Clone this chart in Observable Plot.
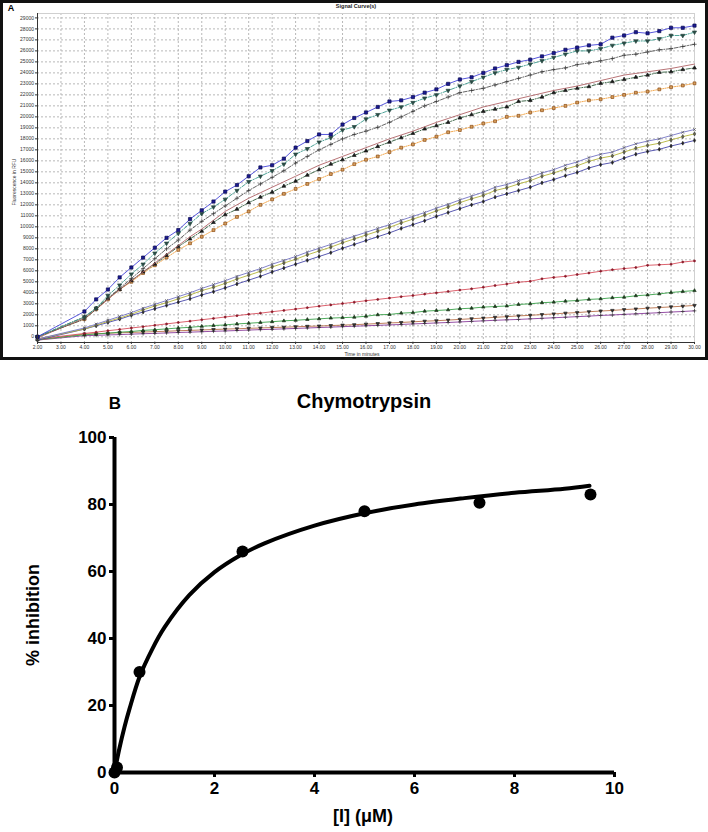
<!DOCTYPE html>
<html><head><meta charset="utf-8">
<script src="https://cdn.jsdelivr.net/npm/d3@7"></script>
<script src="https://cdn.jsdelivr.net/npm/@observablehq/plot@0.6"></script>
<style>
body{margin:0;background:#fff;}
#wrap{position:relative;width:708px;height:832px;overflow:hidden;font-family:"Liberation Sans",Arial,sans-serif;}
.abs{position:absolute;white-space:nowrap;line-height:1;transform:translate(-50%,-50%);}
.panel{position:absolute;left:0;top:0;}
</style></head><body><div id="wrap"></div>
<script>
// ---------- Panel A data (Fluorescence in RFU vs time in minutes) ----------
const timeMin = [2,4,4.5,5,5.5,6,6.5,7,7.5,8,8.5,9,9.5,10,10.5,11,11.5,12,12.5,13,13.5,14,14.5,15,15.5,16,16.5,17,17.5,18,18.5,19,19.5,20,20.5,21,21.5,22,22.5,23,23.5,24,24.5,25,25.5,26,26.5,27,27.5,28,28.5,29,29.5,30];
const blueSquares = [0,2300,3400,4300,5400,6300,7200,8100,9000,9700,10700,11500,12300,13200,13800,14600,15400,15600,16200,17200,17800,18400,18400,19300,19900,20400,20900,21400,21500,21800,22200,22500,23000,23400,23600,24000,24400,24700,25000,25200,25500,25800,26100,26300,26500,26600,27200,27400,27700,27600,27800,28100,28100,28300];
const tealTriangles = [0,1800,2600,3750,4700,5700,6600,7600,8500,9400,10300,11200,11800,12500,13300,14100,14600,15100,15700,16600,17100,17700,18100,18800,19100,19800,20200,20600,20900,21300,21700,22000,22400,22800,23200,23600,24000,24300,24500,24800,25100,25400,25700,26000,26000,26200,26500,26700,26900,26900,27100,27400,27400,27700];
const greyPlus = [0,1600,2500,3500,4400,5300,6200,7100,8000,8800,9700,10500,11200,11900,12600,13300,13900,14500,15100,15800,16400,17000,17500,18000,18400,18700,19050,19500,20000,20500,21000,21400,21800,22200,22400,22600,22900,23200,23500,23800,24100,24300,24450,24750,24900,25100,25300,25600,25700,25900,26100,26200,26400,26600];
const brownSolid = [-100,1700,2500,3400,4300,5100,5900,6700,7500,8300,9100,9800,10600,11400,12000,12600,13100,13600,14100,14600,15100,15600,16000,16400,16800,17200,17600,18000,18350,18700,19100,19500,19850,20200,20550,20900,21150,21400,21650,21900,22150,22400,22600,22800,23050,23300,23550,23800,23950,24100,24250,24400,24600,24800];
const blackTriangles = [0,1800,2600,3500,4300,5100,5900,6600,7400,8200,8900,9600,10400,11100,11600,12200,12700,13150,13700,14150,14700,15200,15700,16100,16500,16900,17300,17700,18100,18500,18900,19200,19500,19900,20200,20500,20700,20900,21400,21500,21800,22200,22400,22600,22750,23050,23200,23400,23600,23800,24050,24100,24300,24450];
const orangeSquares = [0,1600,2500,3400,4300,5000,5800,6500,7200,7900,8500,9100,9700,10300,10900,11400,12000,12500,13000,13450,13900,14350,14800,15200,15700,16100,16400,16800,17200,17500,17900,18200,18600,18800,19100,19400,19600,20000,20100,20400,20600,20800,21000,21300,21500,21600,21800,22000,22200,22300,22500,22700,22850,23050];
const purpleCross = [-200,800,1150,1500,1850,2200,2600,2950,3300,3650,4000,4400,4750,5100,5500,5850,6200,6600,6950,7300,7700,8050,8400,8800,9150,9500,9850,10200,10600,10950,11300,11700,12050,12450,12800,13150,13600,13850,14200,14500,14900,15200,15600,15900,16300,16600,16800,17200,17550,17800,18000,18300,18600,18850];
const oliveDiamonds = [-200,700,1050,1400,1700,2050,2450,2800,3100,3450,3800,4200,4500,4850,5250,5600,5950,6350,6700,7050,7450,7800,8150,8550,8900,9250,9600,9950,10350,10700,11050,11450,11800,12200,12550,12850,13300,13550,13900,14200,14600,14900,15250,15550,15950,16250,16450,16800,17150,17400,17600,17900,18200,18450];
const blueDots = [-300,700,1000,1300,1600,1950,2250,2550,2850,3150,3450,3800,4100,4450,4800,5150,5500,5900,6250,6600,6950,7300,7650,8050,8400,8750,9100,9450,9850,10200,10550,10950,11300,11650,12000,12300,12700,13000,13300,13600,14000,14300,14650,14950,15350,15650,15850,16250,16600,16850,17050,17350,17600,17850];
const redDots = [-200,300,420,550,670,800,920,1050,1170,1300,1420,1550,1670,1800,1920,2050,2150,2280,2400,2520,2650,2780,2900,3020,3150,3280,3400,3520,3650,3750,3880,4000,4120,4250,4360,4500,4660,4800,4960,5050,5270,5400,5500,5660,5800,5960,6100,6200,6300,6500,6550,6600,6800,6900];
const greenTriangles = [-250,180,250,330,420,480,580,640,720,800,860,950,1020,1080,1170,1230,1300,1370,1450,1500,1570,1630,1700,1740,1780,1870,2000,2030,2150,2200,2330,2390,2450,2550,2600,2700,2750,2800,2940,3000,3100,3150,3240,3300,3400,3450,3550,3600,3730,3800,3900,4030,4120,4200];
const brownT = [-300,250,280,320,360,400,430,470,500,550,580,620,660,700,730,770,800,840,870,910,950,980,1020,1060,1100,1150,1200,1260,1300,1360,1420,1460,1520,1580,1640,1700,1770,1830,1900,1950,2020,2080,2150,2200,2280,2340,2400,2470,2530,2600,2660,2720,2780,2850];
const purplePlus = [-300,100,130,170,200,240,280,310,350,390,420,460,500,530,570,610,650,680,720,760,800,840,880,920,960,1000,1040,1080,1120,1170,1210,1260,1300,1350,1400,1450,1500,1540,1580,1630,1680,1730,1780,1830,1880,1940,1980,2040,2090,2140,2190,2250,2300,2360];
const xTicksA = [2,3,4,5,6,7,8,9,10,11,12,13,14,15,16,17,18,19,20,21,22,23,24,25,26,27,28,29,30];
const yTicksA = [0,1000,2000,3000,4000,5000,6000,7000,8000,9000,10000,11000,12000,13000,14000,15000,16000,17000,18000,19000,20000,21000,22000,23000,24000,25000,26000,27000,28000,29000];

// ---------- Panel B data ----------
const concUM = [0, 0.05, 0.5, 2.56, 5.0, 7.3, 9.52];
const inhibitionPct = [0, 1.5, 30, 66, 78, 80.5, 83];
const fitConc = [0, 0.1, 0.2, 0.3, 0.5, 0.75, 1, 1.5, 2, 2.5, 3, 4, 5, 6, 7, 8, 9, 9.5];
const fitInhibition = [0, 7.3, 13.6, 19, 28.5, 36.7, 43.3, 53, 59.8, 64.7, 68.4, 73.7, 77.4, 80, 81.9, 83.5, 84.7, 85.6];
const xTicksB = [0, 2, 4, 6, 8, 10];
const yTicksB = [0, 20, 40, 60, 80, 100];

// inverted triangle symbol
const invTriangle = {draw(ctx, size) {
  const y = -Math.sqrt(size / (Math.sqrt(3) * 3));
  ctx.moveTo(0, -y * 2);
  ctx.lineTo(-Math.sqrt(3) * y, y);
  ctx.lineTo(Math.sqrt(3) * y, y);
  ctx.closePath();
}};

// styles (drawn bottom to top)
const seriesA = [
  {v: purplePlus, stroke: "#8a3c9c", dash: null, symbol: "plus", r: 1.3, fill: "none", mstroke: "#333"},
  {v: brownT, stroke: "#b8704a", dash: null, symbol: invTriangle, r: 1.3, fill: "#333", mstroke: "#222"},
  {v: greenTriangles, stroke: "#3aa24a", dash: null, symbol: "triangle", r: 1.25, fill: "#1e3a1e", mstroke: "#1e3a1e"},
  {v: redDots, stroke: "#d8505e", dash: null, symbol: "circle", r: 1.0, fill: "#8a1a2a", mstroke: "#8a1a2a"},
  {v: blueDots, stroke: "#4646a8", dash: null, symbol: "diamond", r: 1.15, fill: "#222", mstroke: "#222"},
  {v: oliveDiamonds, stroke: "#b4b43a", dash: null, symbol: "diamond", r: 1.25, fill: "#6a6a4a", mstroke: "#444"},
  {v: purpleCross, stroke: "#7474c4", dash: null, symbol: "times", r: 1.4, fill: "none", mstroke: "#555"},
  {v: orangeSquares, stroke: "#f0a040", dash: "1.2,1.2", symbol: "square", r: 1.6, fill: "#d8a060", mstroke: "#8a4a12"},
  {v: blackTriangles, stroke: "#2e5a3a", dash: "4,1.5,1,1.5", symbol: "triangle", r: 1.4, fill: "#1a1a1a", mstroke: "#1a1a1a"},
  {v: brownSolid, stroke: "#b06468", dash: null, symbol: null},
  {v: greyPlus, stroke: "#555", dash: "4,1.5,1,1.5", symbol: "plus", r: 1.5, fill: "none", mstroke: "#333"},
  {v: tealTriangles, stroke: "#3a9a8c", dash: "4,1.5,1,1.5", symbol: invTriangle, r: 1.55, fill: "#2a4a44", mstroke: "#2a4a44"},
  {v: blueSquares, stroke: "#4444d8", dash: null, symbol: "square", r: 1.8, fill: "#1a1a90", mstroke: "#0a0a50"}
];

const marksA = [
  Plot.gridX(xTicksA, {stroke: "#b8b8b8", strokeOpacity: 1, strokeDasharray: "2,2"}),
  Plot.gridY(yTicksA, {stroke: "#b8b8b8", strokeOpacity: 1, strokeDasharray: "2,2"}),
  Plot.frame({stroke: "#d0d0d0"})
];
for (const s of seriesA) {
  const rows = timeMin.map((t, i) => ({t, v: s.v[i]}));
  marksA.push(Plot.lineY(rows, {x: "t", y: "v", stroke: s.stroke, strokeWidth: 0.9, strokeDasharray: s.dash}));
  if (s.symbol) marksA.push(Plot.dot(rows, {x: "t", y: "v", symbol: s.symbol, r: s.r, fill: s.fill, stroke: s.mstroke, strokeWidth: 0.7}));
}
marksA.push(
  Plot.ruleX([2], {stroke: "#333", strokeWidth: 1}),
  Plot.ruleY([-520], {stroke: "#333", strokeWidth: 1}),
  Plot.axisY({ticks: yTicksA, tickSize: 2, tickPadding: 1.5, fontSize: 5, color: "#333", label: null, tickFormat: d => String(d)}),
  Plot.axisX({ticks: xTicksA, tickSize: 2, tickPadding: 1, fontSize: 5, color: "#333", label: null, tickFormat: d => d.toFixed(2)})
);

const plotA = Plot.plot({
  width: 708, height: 360,
  marginLeft: 37, marginRight: 14, marginTop: 13, marginBottom: 18,
  x: {domain: [2, 30]},
  y: {domain: [-520, 29400]},
  style: {fontFamily: "Liberation Sans, Arial, sans-serif", background: "transparent"},
  marks: marksA
});

// ---------- Panel B ----------
const pointsB = concUM.map((c, i) => ({c, p: inhibitionPct[i]}));
const fitB = fitConc.map((c, i) => ({c, p: fitInhibition[i]}));
const plotB = Plot.plot({
  width: 708, height: 452,
  marginLeft: 114, marginRight: 94, marginTop: 57, marginBottom: 60,
  x: {domain: [0, 10]},
  y: {domain: [0, 100]},
  style: {fontFamily: "Liberation Sans, Arial, sans-serif", fontWeight: "bold", background: "transparent", color: "#000"},
  marks: [
    Plot.axisX({ticks: xTicksB, tickSize: 5, tickPadding: 4, strokeWidth: 3, fontSize: 17, fontWeight: "bold", label: null, color: "#000"}),
    Plot.axisY({ticks: yTicksB, tickSize: 5, tickPadding: 3, strokeWidth: 3, fontSize: 17, fontWeight: "bold", label: null, color: "#000"}),
    Plot.ruleX([0], {stroke: "#000", strokeWidth: 4}),
    Plot.ruleY([0], {stroke: "#000", strokeWidth: 4}),
    Plot.line(fitB, {x: "c", y: "p", curve: "catmull-rom", stroke: "#000", strokeWidth: 4}),
    Plot.dot(pointsB, {x: "c", y: "p", r: 6, fill: "#000"})
  ]
});

const wrap = document.getElementById("wrap");
const a = document.createElement("div"); a.className = "panel"; a.style.top = "0px"; a.appendChild(plotA); wrap.appendChild(a);
const b = document.createElement("div"); b.className = "panel"; b.style.top = "380px"; b.appendChild(plotB); wrap.appendChild(b);

const border = document.createElement("div");
Object.assign(border.style, {position: "absolute", left: "0px", top: "0px", width: "708px", height: "360px", border: "3px solid #111", boxSizing: "border-box"});
wrap.appendChild(border);

function label(text, x, y, css, rotate) {
  const d = document.createElement("div");
  d.className = "abs";
  d.textContent = text;
  d.style.left = x + "px"; d.style.top = y + "px";
  Object.assign(d.style, css);
  if (rotate) d.style.transform = "translate(-50%,-50%) rotate(-90deg)";
  wrap.appendChild(d);
}
label("A", 11, 8, {fontSize: "9px", fontWeight: "bold"});
label("Signal Curve(s)", 356, 7, {fontSize: "5.5px", fontWeight: "bold", color: "#222"});
label("Time in minutes", 362, 354, {fontSize: "5px", color: "#333"});
label("Fluorescence in RFU", 14, 182, {fontSize: "5px", color: "#333"}, true);
label("B", 115, 403, {fontSize: "17px", fontWeight: "bold"});
label("Chymotrypsin", 364, 401, {fontSize: "20px", fontWeight: "bold"});
label("[I] (\u03bcM)", 363, 816, {fontSize: "18px", fontWeight: "bold"});
label("% inhibition", 33, 615, {fontSize: "18px", fontWeight: "bold"}, true);
</script></body></html>
